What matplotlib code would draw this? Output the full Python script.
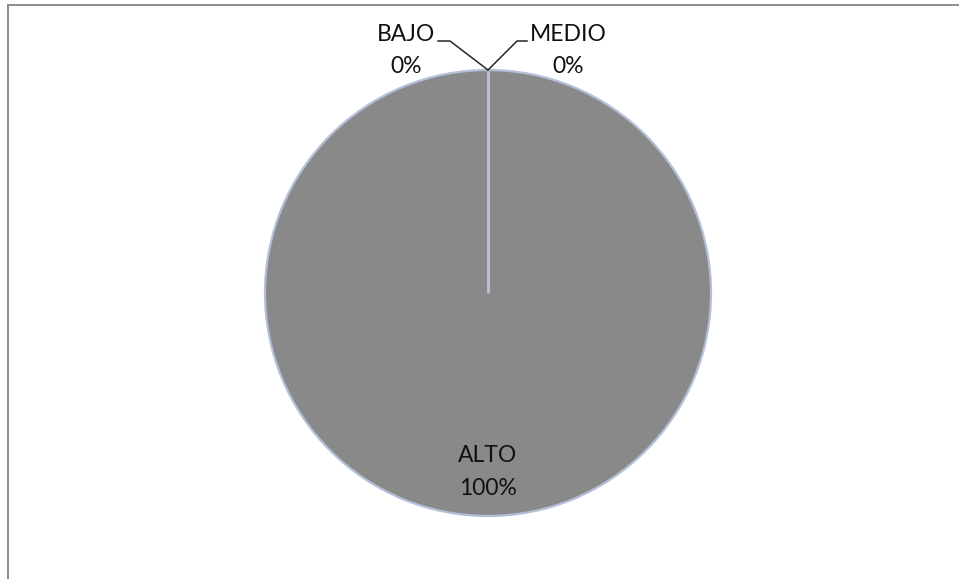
import numpy as np
import matplotlib.pyplot as plt
from matplotlib.lines import Line2D

plt.rcParams['font.family'] = ['Lato', 'DejaVu Sans']

categories = ['BAJO', 'MEDIO', 'ALTO']
values = [0, 0, 100]
colors = ['#4f81bd', '#c0504d', '#898989']

W, H = 959, 579
fig = plt.figure(figsize=(W / 100, H / 100), dpi=100)

# pie centre / radius in pixels
cx, cy, r = 488, 293, 223
ax = fig.add_axes([(cx - r) / W, (H - cy - r) / H, 2 * r / W, 2 * r / H])
edge = '#b3c0d8'
wedges, _ = ax.pie(values, colors=colors, startangle=90, counterclock=False,
                   radius=1,
                   wedgeprops=dict(edgecolor=edge, linewidth=1.6))
# radial border where the slices meet (zero slices collapse onto it)
th = np.deg2rad(wedges[-1].theta2)
ax.plot([0, np.cos(th)], [0, np.sin(th)], color=edge, lw=2.2, solid_capstyle='butt')
ax.set_xlim(-1, 1)
ax.set_ylim(-1, 1)
ax.set_aspect('equal')
ax.axis('off')


def d(px, py):
    # pixel -> data coords
    return (px - cx) / r, (cy - py) / r


pct = np.array(values) / np.sum(values) * 100
# label positions (px): x centre, name baseline, pct baseline
label_pos = {'BAJO': (406, 41, 73), 'MEDIO': (568, 41, 73), 'ALTO': (488, 462, 495)}
for name, p in zip(categories, pct):
    x, y1, y2 = label_pos[name]
    ax.text(*d(x, y1), name, ha='center', va='baseline', fontsize=16.5,
            color='#111111', clip_on=False)
    ax.text(*d(x, y2), f'{p:.0f}%', ha='center', va='baseline', fontsize=16.5,
            color='#111111', clip_on=False)

# leader lines
for pts in [[(438, 41), (450, 41), (488, 70)], [(488, 70), (517, 41), (527, 41)]]:
    xs, ys = zip(*[d(*p) for p in pts])
    ax.plot(xs, ys, color='#262626', lw=1.1, clip_on=False)

# chart frame (top and left visible)
fig.add_artist(Line2D([7.5 / W, 1], [1 - 5 / H, 1 - 5 / H], color='#8c8c8c', lw=1.4))
fig.add_artist(Line2D([7.5 / W, 7.5 / W], [0, 1 - 5 / H], color='#8c8c8c', lw=1.4))

fig.savefig('out.png', dpi=100)
